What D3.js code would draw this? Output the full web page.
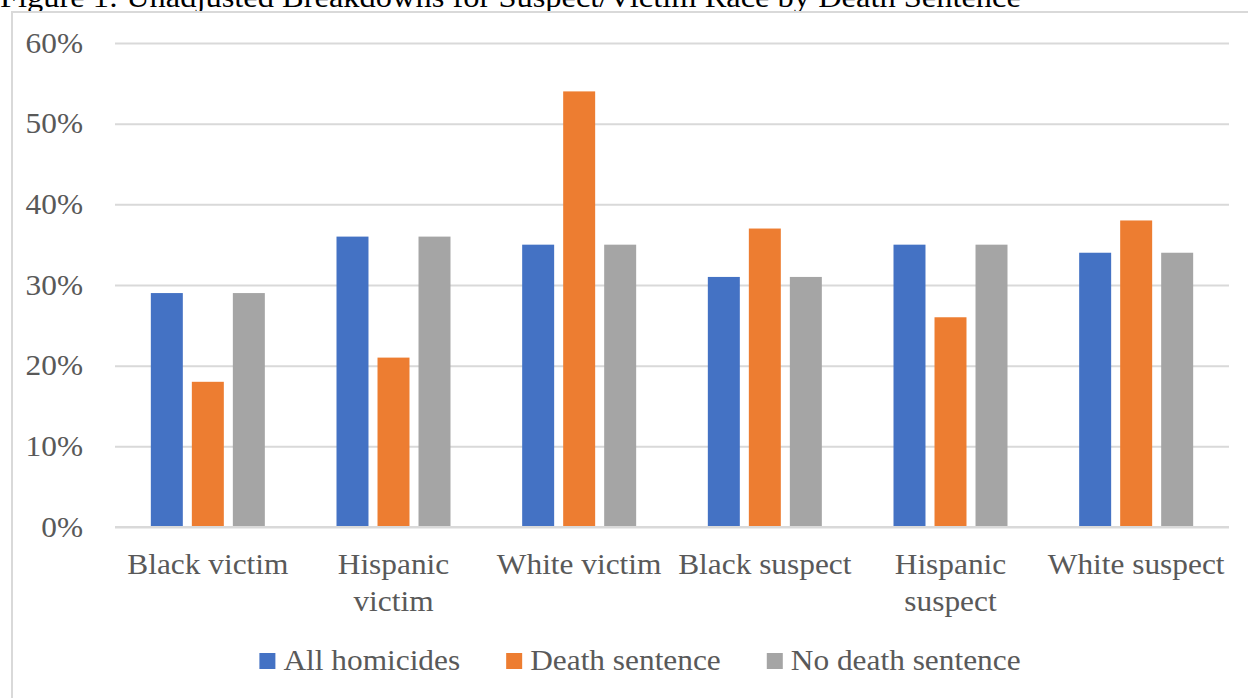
<!DOCTYPE html>
<html>
<head>
<meta charset="utf-8">
<script src="https://cdn.jsdelivr.net/npm/d3@7"></script>
<style>
  html, body { margin: 0; padding: 0; background: #fff; }
  svg { display: block; }
</style>
</head>
<body>
<svg id="chart" width="1248" height="698"></svg>
<script>
// Share of cases (%) by suspect/victim race, split by sentencing outcome
const categories = ["Black victim", "Hispanic victim", "White victim", "Black suspect", "Hispanic suspect", "White suspect"];
const seriesNames = ["All homicides", "Death sentence", "No death sentence"];
const allHomicides = [29, 36, 35, 31, 35, 34];
const deathSentence = [18, 21, 54, 37, 26, 38];
const noDeathSentence = [29, 36, 35, 31, 35, 34];
const yTicks = [0, 10, 20, 30, 40, 50, 60];
const colors = ["#4472c4", "#ed7d31", "#a5a5a5"];
const titleText = "Figure 1: Unadjusted Breakdowns for Suspect/Victim Race by Death Sentence";

const FONT = '"Liberation Serif", "Times New Roman", serif';
const FS = 28.5;        // label size
const STRETCH = 1.1;    // glyphs are set slightly wide
const TEXT_COLOR = "#595959";

const seriesValues = [allHomicides, deathSentence, noDeathSentence];
const rows = categories.map((c, i) => ({
  category: c,
  values: seriesNames.map((s, j) => ({ series: s, value: seriesValues[j][i] }))
}));

const svg = d3.select("#chart");
const W = 1248, H = 698;
const plot = { left: 115, right: 1229, top: 43, bottom: 527 };

// widen a text element horizontally by the STRETCH factor
function widen(sel, k = STRETCH) {
  sel.each(function() {
    const len = this.getComputedTextLength();
    d3.select(this)
      .attr("textLength", len * k)
      .attr("lengthAdjust", "spacingAndGlyphs");
  });
}

// Figure caption, partly clipped at the top edge
svg.append("text")
  .attr("x", 0).attr("y", 7)
  .style("font-family", FONT)
  .style("font-size", "29.5px")
  .attr("fill", "#000")
  .text(titleText)
  .call(widen);

// Chart frame
svg.append("path")
  .attr("d", `M12,${H} V12 H${W}`)
  .attr("fill", "none")
  .attr("stroke", "#d9d9d9")
  .attr("stroke-width", 2);

const x0 = d3.scaleBand()
  .domain(categories)
  .range([plot.left, plot.right])
  .paddingInner(0.386)
  .paddingOuter(0.193);

const x1 = d3.scaleBand()
  .domain(seriesNames)
  .range([0, x0.bandwidth()])
  .paddingInner(0.22);

const y = d3.scaleLinear()
  .domain([0, 60])
  .range([plot.bottom, plot.top]);

const color = d3.scaleOrdinal().domain(seriesNames).range(colors);

// Gridlines and y tick labels
const yAxis = d3.axisLeft(y)
  .tickValues(yTicks)
  .tickFormat(d => d + "%")
  .tickSize(-(plot.right - plot.left))
  .tickPadding(32);

const gy = svg.append("g")
  .attr("transform", `translate(${plot.left},0)`)
  .call(yAxis);
gy.select(".domain").remove();
gy.selectAll(".tick line")
  .attr("stroke", "#d9d9d9")
  .attr("stroke-width", 2);
gy.selectAll(".tick text")
  .style("font-family", FONT)
  .style("font-size", FS + "px")
  .attr("fill", TEXT_COLOR)
  .call(widen);

// Bars
const groups = svg.append("g").selectAll("g")
  .data(rows)
  .join("g")
  .attr("transform", d => `translate(${x0(d.category)},0)`);

groups.selectAll("rect")
  .data(d => d.values)
  .join("rect")
  .attr("x", d => x1(d.series))
  .attr("y", d => y(d.value))
  .attr("width", x1.bandwidth())
  .attr("height", d => y(0) - y(d.value))
  .attr("fill", d => color(d.series));

// Baseline over bar bottoms
svg.append("line")
  .attr("x1", plot.left).attr("x2", plot.right)
  .attr("y1", y(0)).attr("y2", y(0))
  .attr("stroke", "#d9d9d9")
  .attr("stroke-width", 2);

// Category labels, wrapped to the band width
const catLayer = svg.append("g");
const maxW = x0.step() - 4;
categories.forEach(c => {
  const cx = x0(c) + x0.bandwidth() / 2;
  const probe = catLayer.append("text")
    .style("font-family", FONT)
    .style("font-size", FS + "px");
  const words = c.split(" ");
  const lines = [];
  let line = [];
  words.forEach(w => {
    line.push(w);
    probe.text(line.join(" "));
    if (probe.node().getComputedTextLength() * STRETCH > maxW && line.length > 1) {
      line.pop();
      lines.push(line.join(" "));
      line = [w];
    }
  });
  lines.push(line.join(" "));
  probe.remove();
  lines.forEach((l, i) => {
    catLayer.append("text")
      .attr("x", cx)
      .attr("y", plot.bottom + 47 + i * 37)
      .attr("text-anchor", "middle")
      .style("font-family", FONT)
      .style("font-size", FS + "px")
      .attr("fill", TEXT_COLOR)
      .text(l)
      .call(widen);
  });
});

// Legend: square swatch + label, entries side by side, centred
const legend = svg.append("g");
const lg = legend.selectAll("g")
  .data(seriesNames)
  .join("g");
lg.append("rect")
  .attr("y", 0)
  .attr("width", 16).attr("height", 16)
  .attr("fill", d => color(d));
lg.append("text")
  .attr("x", 24).attr("y", 17)
  .style("font-family", FONT)
  .style("font-size", FS + "px")
  .attr("fill", TEXT_COLOR)
  .text(d => d)
  .call(widen);

const gap = 46;
const widths = [];
lg.each(function() {
  const t = d3.select(this).select("text");
  widths.push(24 + +t.attr("textLength"));
});
const total = d3.sum(widths) + gap * (widths.length - 1);
const start = 640 - total / 2;
lg.attr("transform", (d, i) => {
  const tx = start + d3.sum(widths.slice(0, i)) + gap * i;
  return `translate(${tx},653)`;
});
</script>
</body>
</html>
